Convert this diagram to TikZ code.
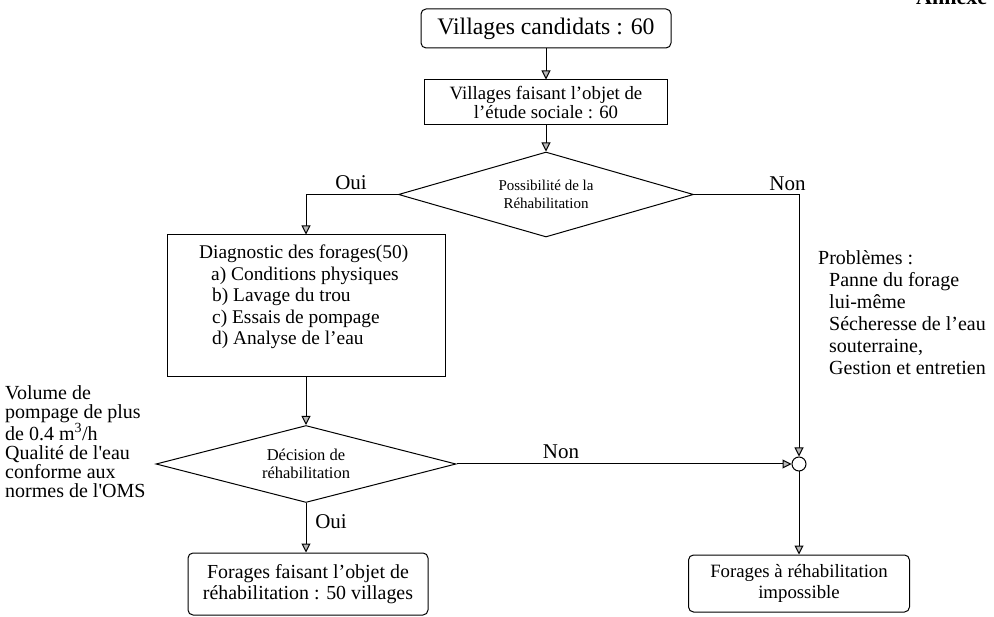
\documentclass[tikz,border=0pt]{standalone}
\usepackage{fontspec}
\setmainfont{Liberation Serif}
\usetikzlibrary{shapes.geometric,arrows.meta}
\begin{document}
\begin{tikzpicture}[x=1pt,y=-1pt,
  lw/.style={line width=1pt},
  sqbox/.style={draw,lw,inner sep=0pt,align=center},
  rbox/.style={draw,lw,inner sep=0pt,align=center,rounded corners=5pt},
  dia/.style={draw,lw,diamond,aspect=3.5,inner sep=0pt,align=center},
  arr/.style={lw,-{Triangle[length=9pt,width=9pt,fill=gray!55]}},
  lbl/.style={inner sep=0pt,font=\fontsize{21}{24}\selectfont},
  txt/.style={inner sep=0pt,align=left}
]
\useasboundingbox (0,0) rectangle (994,617);
\clip (0,0) rectangle (994,617);

\node[anchor=base west,inner sep=0pt,font=\bfseries\fontsize{22}{26}\selectfont] (ann) at (916,5) {Annexe};

\node[rbox,minimum width=250,minimum height=39,font=\fontsize{23.7}{28}\selectfont] (b1) at (546,28.5) {Villages candidats : 60};
\node[sqbox,minimum width=243,minimum height=45,font=\fontsize{18.8}{19}\selectfont] (b2) at (546,102.5) {Villages faisant l’objet de\\l’étude sociale : 60};
\node[dia,minimum width=295,minimum height=85,font=\fontsize{15}{18}\selectfont] (d1) at (546,194.5) {Possibilité de la\\Réhabilitation};

\node[sqbox,minimum width=278,minimum height=142] (b3) at (306,306) {};
\node[txt,anchor=north west,font=\fontsize{19.4}{21.5}\selectfont] (t3) at (199,245) {Diagnostic des forages(50)\\\hspace*{12pt}a) Conditions physiques\\\hspace*{13pt}b) Lavage du trou\\\hspace*{13pt}c) Essais de pompage\\\hspace*{13pt}d) Analyse de l’eau};

\node[dia,minimum width=300,minimum height=77,font=\fontsize{16.5}{18}\selectfont] (d2) at (306,464) {Décision de\\réhabilitation};

\node[rbox,minimum width=240,minimum height=62,font=\fontsize{19.9}{20.5}\selectfont] (b4) at (308,584) {Forages faisant l’objet de\\réhabilitation : 50 villages};

\node[circle,draw,lw,minimum size=14,inner sep=0pt] (c) at (799,464) {};
\node[rbox,minimum width=221,minimum height=57,font=\fontsize{18.8}{21}\selectfont] (b5) at (799,583.5) {Forages à réhabilitation\\impossible};

\node[txt,anchor=north west,font=\fontsize{20}{19}\selectfont] (left) at (5,385) {Volume de\\pompage de plus\\de 0.4 m\textsuperscript{3}/h\\Qualité de l\textquotesingle eau\\conforme aux\\normes de l\textquotesingle OMS};

\node[txt,anchor=north west,font=\fontsize{20}{22}\selectfont] (prob) at (818,250) {Problèmes :\\\hspace*{11pt}Panne du forage\\\hspace*{11pt}lui-même\\\hspace*{11pt}Sécheresse de l’eau\\\hspace*{11pt}souterraine,\\\hspace*{11pt}Gestion et entretien};

\draw[arr] (b1) -- (b2);
\draw[arr] (b2) -- (d1);
\draw[arr] (d1.west) -| (b3.north);
\draw[arr] (b3) -- (d2);
\draw[arr] (d2.south) -- (d2.south |- b4.north);
\draw[arr] (d1.east) -| (c.north);
\draw[arr] (d2.east) -- (c.west);
\draw[arr] (c) -- (b5);

\node[lbl] (oui1) at (351,183) {Oui};
\node[lbl] (non1) at (787.5,184) {Non};
\node[lbl] (non2) at (561,452) {Non};
\node[lbl] (oui2) at (331,522) {Oui};
\end{tikzpicture}
\end{document}
